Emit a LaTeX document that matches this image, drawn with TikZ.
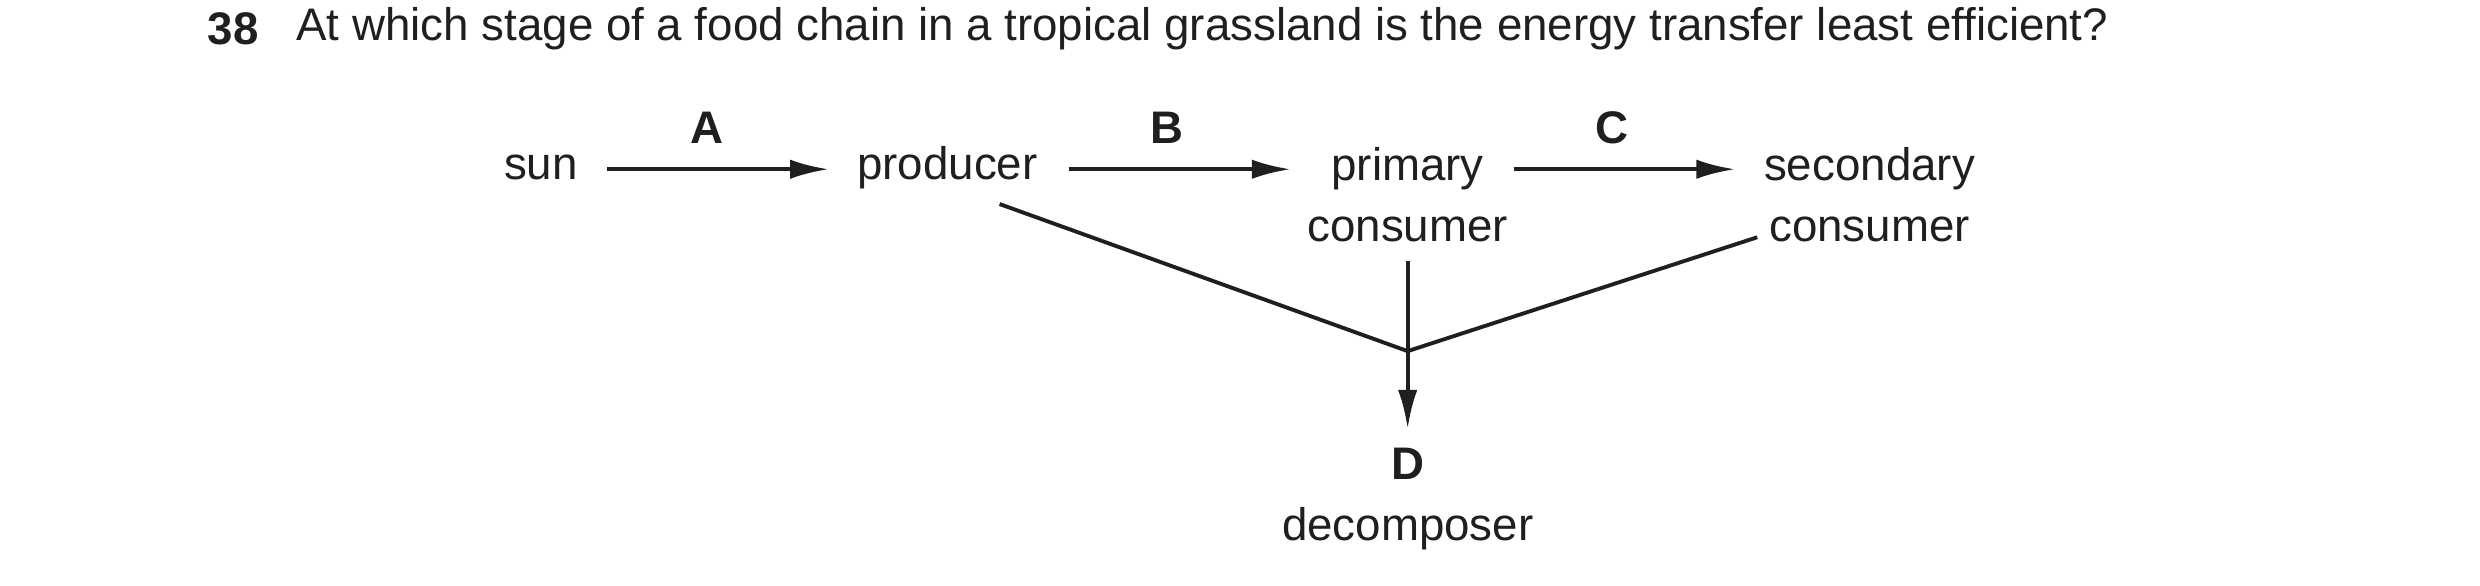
\documentclass[tikz,border=0pt]{standalone}
\usepackage{fontspec}
\setmainfont{Liberation Sans}
\usetikzlibrary{arrows.meta}
\tikzstyle{arrow} = [line width=1.1pt,-{Latex[length=11pt,width=5.5pt]}]
\tikzstyle{line} = [line width=1.1pt]
\tikzstyle{txt} = [font=\fontsize{13}{17.2}\selectfont,align=center,inner sep=0pt]
\begin{document}
\begin{tikzpicture}[x=0.01582cm,y=-0.01582cm,color=black!88]
		\useasboundingbox (0,0) rectangle (1568,370);
		% Question:
		\node [txt,font=\fontsize{13}{16}\selectfont\bfseries,anchor=west] (num) at (131,18) {38};
		\node [txt,anchor=west] (q) at (187,18) {At which stage of a food chain in a tropical grassland is the energy transfer least efficient?};
		% Chain:
		\node [txt] (sun) at (342,106) {sun};
		\node [txt] (prod) at (599,106) {producer};
		\node [txt,anchor=north] (prim) at (890,93) {primary\\consumer};
		\node [txt,anchor=north] (sec) at (1182,93) {secondary\\consumer};
		\node [txt,anchor=north] (dec) at (890,283) {\textbf{D}\\decomposer};
		\node [txt] (la) at (447,81) {\textbf{A}};
		\node [txt] (lb) at (738,81) {\textbf{B}};
		\node [txt] (lc) at (1019,81) {\textbf{C}};
		\draw [arrow] (384,107) -- (524,107);
		\draw [arrow] (676,107) -- (816,107);
		\draw [arrow] (957,107) -- (1097,107);
		% Decomposer links:
		\coordinate (j) at (890,222);
		\coordinate (pe) at (632,129);
		\coordinate (se) at (1111,150);
		\draw [line] (pe) -- (j) -- (se);
		\draw [arrow] (890,165) -- (890,271);
\end{tikzpicture}
\end{document}
